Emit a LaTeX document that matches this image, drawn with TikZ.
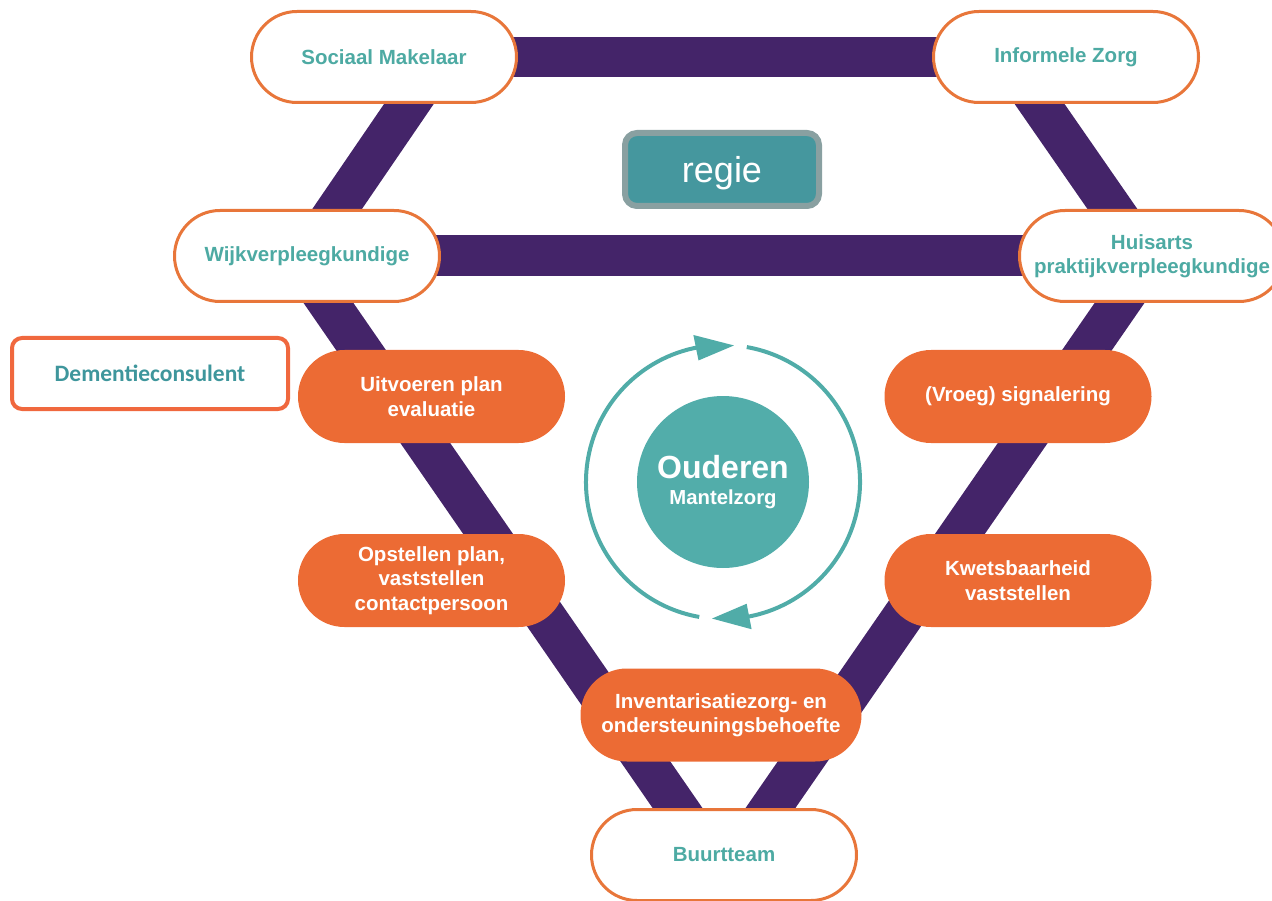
\documentclass[tikz,border=0pt]{standalone}
\usepackage{fontspec}
\setmainfont{Liberation Sans}
\newfontfamily\calibfont{Carlito}
\usetikzlibrary{arrows.meta,calc}
\definecolor{barpurple}{RGB}{68,36,105}
\definecolor{tealtext}{RGB}{77,170,163}
\definecolor{circteal}{RGB}{82,173,170}
\definecolor{ringteal}{RGB}{80,172,168}
\definecolor{regiefill}{RGB}{69,151,158}
\definecolor{regieborder}{RGB}{137,160,161}
\definecolor{pillorange}{RGB}{232,118,58}
\definecolor{fillorange}{RGB}{236,107,52}
\definecolor{demorange}{RGB}{240,104,62}
\definecolor{demtext}{RGB}{62,150,156}
\pgfdeclarelayer{bg}
\pgfsetlayers{bg,main}
\tikzset{
  pilltext/.style={font=\bfseries\fontsize{20.5}{24.5}\selectfont, align=center, inner sep=0pt},
  whitepill/.style={pilltext, draw=pillorange, line width=3pt, fill=white, rounded corners=45.5pt,
    minimum width=265pt, minimum height=91pt, text=tealtext},
  orangepill/.style={pilltext, fill=fillorange, rounded corners=46.5pt,
    minimum width=267pt, minimum height=93pt, text=white},
  bar/.style={draw=barpurple, line width=41pt},
  ring/.style={draw=ringteal, line width=4pt},
  ringtip/.style={fill=ringteal},
  regiebox/.style={draw=regieborder, line width=6pt, fill=regiefill, rounded corners=12pt,
    minimum width=194pt, minimum height=73pt, text=white, font=\fontsize{36}{40}\selectfont, inner sep=0pt},
  dembox/.style={draw=demorange, line width=4pt, fill=white, rounded corners=10pt,
    minimum width=276pt, minimum height=71pt, text=demtext, font=\calibfont\bfseries\fontsize{23.5}{28}\selectfont, inner sep=0pt},
  ourcircle/.style={circle, fill=circteal, minimum size=172pt, inner sep=0pt, text=white, align=center,
    font=\bfseries\fontsize{20.3}{26}\selectfont}
}
\begin{document}
\begin{tikzpicture}[x=1pt,y=-1pt]
\useasboundingbox (0,0) rectangle (1272,901);
\clip (0,0) rectangle (1272,901);

% white pills
\node[whitepill] (soc) at (384,57) {Sociaal Makelaar};
\node[whitepill] (inf) at (1066,57) {Informele Zorg};
\node[whitepill] (wijk) at (307,256) {Wijkverpleegkundige};
\node[whitepill] (huis) at (1152,256) {Huisarts\\praktijkverpleegkundige};
\node[whitepill] (buurt) at (724,855) {Buurtteam};

% orange pills
\node[orangepill] (uit) at (431.5,396.5) {Uitvoeren plan\\evaluatie};
\node[orangepill] (opst) at (431.5,580.5) {Opstellen plan,\\vaststellen\\contactpersoon};
\node[orangepill] (vroeg) at (1018,396.5) {(Vroeg) signalering};
\node[orangepill] (kwets) at (1018,580.5) {Kwetsbaarheid\\vaststellen};
\node[orangepill, minimum width=281pt] (inv) at (721,715) {Inventarisatiezorg- en\\ondersteuningsbehoefte};

% regie and dementieconsulent
\node[regiebox] (regie) at (722,169.5) {\raisebox{-4pt}[\height][\depth]{regie}};
\node[dembox] (dem) at (150,373.5) {Dementieconsulent};

% central circle
\node[ourcircle] (ouder) at (723,482) {{\fontsize{32}{34}\selectfont Ouderen}\\Mantelzorg};

% ring with arrowheads
\draw[ring] (ouder.center) ++(100:137) arc[start angle=100, end angle=262, radius=137];
\fill[ringtip] ($(ouder.center)+(274.6:137)$) -- ($(ouder.center)+(258.6:150)$) -- ($(ouder.center)+(258.6:124)$) -- cycle;
\draw[ring] (ouder.center) ++(-80:137) arc[start angle=-80, end angle=82, radius=137];
\fill[ringtip] ($(ouder.center)+(94.6:137)$) -- ($(ouder.center)+(79:150)$) -- ($(ouder.center)+(79:124)$) -- cycle;

% purple bars behind
\begin{pgfonlayer}{bg}
\draw[bar, line width=40pt] (soc.center) -- (inf.center);
\draw[bar, line width=41pt] (wijk.center) -- (huis.center);
\draw[bar] ([xshift=57pt]soc.center) -- ([xshift=-2pt]wijk.center);
\draw[bar] ([xshift=-59pt]inf.center) -- ([xshift=-7pt]huis.center);
\draw[bar] ([xshift=-11pt]wijk.center) -- ([xshift=-14pt]buurt.center);
\draw[bar] (huis.center) -- ([xshift=14pt]buurt.center);
\end{pgfonlayer}
\end{tikzpicture}
\end{document}
